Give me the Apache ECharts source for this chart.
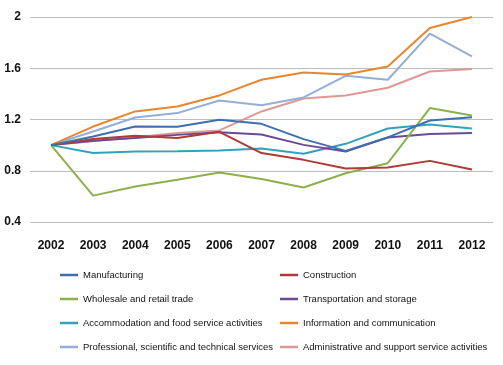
<!DOCTYPE html>
<html><head><meta charset="utf-8">
<script src="https://cdn.jsdelivr.net/npm/echarts@6/dist/echarts.min.js"></script>
<style>html,body{margin:0;padding:0;background:#fff}#c{width:503px;height:365px}</style>
</head><body><div id="c"></div>
<script>
const years = ['2002','2003','2004','2005','2006','2007','2008','2009','2010','2011','2012'];
const yTicks = [0.4, 0.8, 1.2, 1.6, 2];
const names = [
  'Manufacturing','Construction',
  'Wholesale and retail trade','Transportation and storage',
  'Accommodation and food service activities','Information and communication',
  'Professional, scientific and technical services','Administrative and support service activities'
];
const manufacturing = [1.0, 1.067, 1.145, 1.143, 1.198, 1.166, 1.047, 0.955, 1.06, 1.192, 1.218];
const construction  = [1.0, 1.047, 1.073, 1.055, 1.104, 0.938, 0.885, 0.817, 0.825, 0.877, 0.809];
const wholesale     = [1.0, 0.606, 0.677, 0.729, 0.786, 0.735, 0.669, 0.781, 0.859, 1.289, 1.231];
const transport     = [1.0, 1.035, 1.055, 1.08, 1.10, 1.083, 1.002, 0.95, 1.06, 1.086, 1.094];
const accommodation = [1.0, 0.938, 0.95, 0.952, 0.958, 0.974, 0.932, 1.01, 1.13, 1.161, 1.13];
const information   = [1.0, 1.145, 1.263, 1.302, 1.388, 1.51, 1.567, 1.552, 1.614, 1.914, 2.0];
const professional  = [1.0, 1.106, 1.216, 1.25, 1.348, 1.312, 1.372, 1.541, 1.51, 1.87, 1.692];
const administrative= [1.0, 1.03, 1.062, 1.094, 1.115, 1.263, 1.364, 1.388, 1.448, 1.575, 1.594];
const values = [manufacturing, construction, wholesale, transport, accommodation, information, professional, administrative];
const colors = ['#3F6FAE','#B03A36','#8DB04B','#6A4B93','#32A2BC','#E8862E','#93AFD8','#DE9896'];

const font = "'Liberation Sans',Arial,sans-serif";
const chart = echarts.init(document.getElementById('c'), null, {renderer:'canvas'});
const series = names.map((n,i)=>({
  name:n, type:'line', data:values[i], symbol:'none', showSymbol:false,
  lineStyle:{width:2, color:colors[i]}, itemStyle:{color:colors[i]}, animation:false, z: 10-i
}));
const legendText = {fontFamily:font, fontSize:9.5, color:'#111', lineHeight:14};
const legendCommon = {orient:'vertical', top:268, icon:'rect', itemWidth:18, itemHeight:2.5,
  itemGap:10, textStyle:legendText, padding:0};
chart.setOption({
  animation:false,
  grid:{left:30, right:10, top:17, bottom:143, containLabel:false},
  xAxis:{type:'category', data:years, boundaryGap:true,
    axisLine:{show:false}, axisTick:{show:false},
    axisLabel:{fontFamily:font, fontSize:12, fontWeight:'bold', color:'#111', margin:18}},
  yAxis:{type:'value', min:0.4, max:2, interval:0.4,
    axisLine:{show:false}, axisTick:{show:false},
    splitLine:{lineStyle:{color:'#BDBDBD', width:1}},
    axisLabel:{fontFamily:font, fontSize:12, fontWeight:'bold', color:'#111', margin:9,
      formatter:v=>{ const t=yTicks.find(x=>Math.abs(x-v)<1e-6); return t===undefined?'':String(t);} }},
  legend:[
    Object.assign({data:[names[0],names[2],names[4],names[6]], left:60}, legendCommon),
    Object.assign({data:[names[1],names[3],names[5],names[7]], left:280}, legendCommon)
  ],
  series
});
</script></body></html>
